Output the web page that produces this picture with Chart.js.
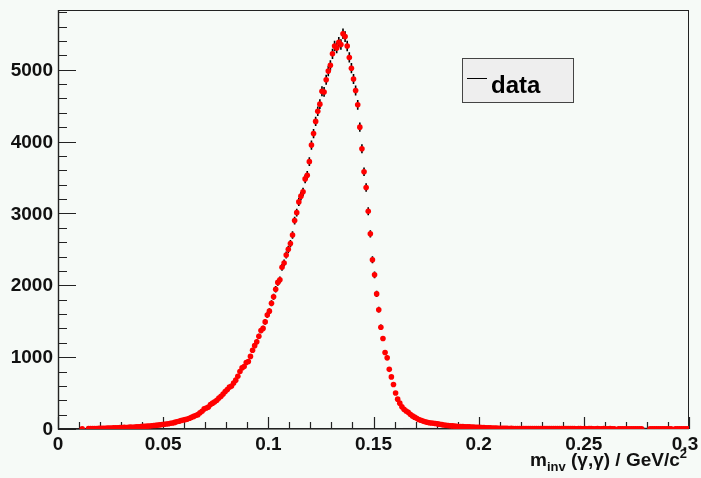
<!DOCTYPE html>
<html>
<head>
<meta charset="utf-8">
<script src="https://cdn.jsdelivr.net/npm/chart.js@4"></script>
<style>
  html, body { margin: 0; padding: 0; background: #f6faf7; }
  canvas { display: block; }
</style>
</head>
<body>
<canvas id="hist" width="701" height="478"></canvas>
<script>
// histogram binning: 300 bins from 0 to 0.3, first filled bin is #11
const xLow = 0;
const binWidth = 0.001;
const firstBin = 11;

// counts per bin (null = empty bin)
const countsLow = [3, null, null, 5, 6, 7, 6, 8, 9, 9,
    11, 10, 12, 14, 13, 15, 17, 16, 19, 20,
    22, 21, 24, 26, 25, 28, 30, 32, 34, 36,
    37, 40, 42, 45, 48, 50, 54, 58, 62];
const countsRise = [66, 70, 74, 80, 84, 92, 100, 108, 118, 126,
    130, 138, 150, 162, 175, 188, 200, 226, 248, 280,
    292, 305, 340, 360, 378, 400, 430, 455, 488, 522,
    550, 582, 598, 640, 680, 735, 800, 850, 870, 925,
    940, 1010, 1095, 1160, 1215, 1290, 1370, 1400, 1490, 1585];
const countsPeak = [1640, 1750, 1840, 1945, 2040, 2075, 2250, 2310, 2420, 2500,
    2580, 2700, 2900, 3010, 3160, 3240, 3300, 3480, 3530, 3720,
    3950, 4110, 4280, 4420, 4520, 4700, 4690, 4860, 4980, 5060,
    5220, 5330, 5300, 5380, 5350, 5500, 5460, 5330, 5170, 5020];
const countsFall = [4870, 4710, 4510, 4200, 3900, 3580, 3360, 3030, 2715, 2355,
    2145, 1880, 1660, 1415, 1260, 1065, 990, 830, 725, 620,
    500, 415, 360, 310, 275, 250, 232, 205, 182, 165,
    148, 132, 122, 110, 100, 93, 88, 84, 80, 76,
    72, 66, 61, 56, 52, 49, 46, 43, 40, 37,
    35, 34, 33, 32, 31, 29, 28, 26, 25, 24];
const countsTail = [22, 20, 19, 18, 16, 15, 14, 13, 12, 11,
    10, 10, 9, 9, 8, 9, 8, 8, 7, 8,
    7, 8, 7, 7, 6, 7, 7, 6, 7, 6,
    6, 7, 6, 6, 5, 6, 6, 5, 6, 5,
    6, 5, 5, 6, 5, 5, 4, 5, 5, 4,
    5, 4, 5, 5, 4, 4, 5, 4, 4, 5,
    4, 4, 5, 4, 4, null, 4, 3, 4, 4,
    4, 3, 4, 4, 3, 4, 3, 4, null, null,
    null, 3, 4, 3, 3, 4, 3, 3, 4, 3,
    3, 3, null, 3, 3, 2, 3, 3, 3, 3];

const xTickValues = [0, 0.05, 0.1, 0.15, 0.2, 0.25, 0.3];
const xTickLabels = ['0', '0.05', '0.1', '0.15', '0.2', '0.25', '0.3'];
const yTickValues = [0, 1000, 2000, 3000, 4000, 5000];
const yTickLabels = ['0', '1000', '2000', '3000', '4000', '5000'];
const yMax = 5830;
const legendLabel = 'data';

const allCounts = countsLow.concat(countsRise, countsPeak, countsFall, countsTail);
const points = [];
allCounts.forEach(function (n, i) {
    if (n === null) return;
    points.push({ x: xLow + (firstBin + i + 0.5) * binWidth, y: n });
});

const FONT = '"Liberation Sans", Arial, sans-serif';

const rootFrame = {
    id: 'rootFrame',
    beforeDraw(chart) {
        const ctx = chart.ctx;
        ctx.save();
        ctx.fillStyle = '#f6faf7';
        ctx.fillRect(0, 0, chart.width, chart.height);
        ctx.restore();
    },
    beforeDatasetsDraw(chart) {
        const ctx = chart.ctx;
        const a = chart.chartArea;
        const xs = chart.scales.x;
        const ys = chart.scales.y;
        ctx.save();

        // frame
        ctx.strokeStyle = '#222';
        ctx.lineWidth = 1;
        ctx.strokeRect(Math.round(a.left) + 0.5, Math.round(a.top) + 0.5,
            Math.round(a.right - a.left) - 1, Math.round(a.bottom - a.top) - 1);
        ctx.lineWidth = 1.4;
        ctx.beginPath();
        ctx.moveTo(a.left + 0.5, a.top);
        ctx.lineTo(a.left + 0.5, a.bottom);
        ctx.lineTo(a.right, a.bottom - 0.5);
        ctx.stroke();

        // x ticks, every 0.01, long ones every 0.05
        ctx.lineWidth = 1.2;
        ctx.beginPath();
        for (let k = 0; k <= 30; k++) {
            const px = Math.round(xs.getPixelForValue(k / 100)) + 0.5;
            const len = (k % 5 === 0) ? 12 : 7;
            ctx.moveTo(px, a.bottom);
            ctx.lineTo(px, a.bottom - len);
        }
        // y ticks, every 200, long ones every 1000
        for (let v = 0; v <= yMax; v += 200) {
            const py = Math.round(ys.getPixelForValue(v)) + 0.5;
            const len = (v % 1000 === 0) ? 18 : 9;
            ctx.moveTo(a.left, py);
            ctx.lineTo(a.left + len, py);
        }
        ctx.stroke();

        // tick labels
        ctx.fillStyle = '#111';
        ctx.font = 'bold 19px ' + FONT;
        ctx.textAlign = 'center';
        ctx.textBaseline = 'top';
        xTickValues.forEach(function (v, i) {
            const shift = (i === xTickValues.length - 1) ? -4 : 0;
            ctx.fillText(xTickLabels[i], xs.getPixelForValue(v) + shift, a.bottom + 6);
        });
        ctx.textAlign = 'right';
        ctx.textBaseline = 'middle';
        yTickValues.forEach(function (v, i) {
            ctx.fillText(yTickLabels[i], a.left - 5, ys.getPixelForValue(v) + 1);
        });

        // axis title with sub/superscript
        const parts = [
            { t: 'm', size: 19, dy: 0 },
            { t: 'inv', size: 13, dy: 5 },
            { t: ' (\u03b3,\u03b3) / GeV/c', size: 19, dy: 0 },
            { t: '2', size: 13, dy: -8 }
        ];
        ctx.textAlign = 'left';
        ctx.textBaseline = 'alphabetic';
        let total = 0;
        parts.forEach(function (p) {
            ctx.font = 'bold ' + p.size + 'px ' + FONT;
            p.w = ctx.measureText(p.t).width;
            total += p.w;
        });
        let tx = 687 - total;
        parts.forEach(function (p) {
            ctx.font = 'bold ' + p.size + 'px ' + FONT;
            ctx.fillText(p.t, tx, 466 + p.dy);
            tx += p.w;
        });

        // error bars, sqrt(N)
        ctx.strokeStyle = '#000';
        ctx.lineWidth = 1.6;
        ctx.beginPath();
        points.forEach(function (p) {
            const e = Math.sqrt(p.y);
            const px = xs.getPixelForValue(p.x);
            ctx.moveTo(px, ys.getPixelForValue(p.y + e));
            ctx.lineTo(px, ys.getPixelForValue(Math.max(p.y - e, 0)));
        });
        ctx.stroke();
        ctx.restore();
    },
    afterDatasetsDraw(chart) {
        const ctx = chart.ctx;
        ctx.save();
        ctx.fillStyle = '#eeeeee';
        ctx.fillRect(463, 59, 111, 43);
        ctx.strokeStyle = '#444';
        ctx.lineWidth = 1;
        ctx.strokeRect(462.5, 58.5, 111, 44);
        ctx.strokeStyle = '#000';
        ctx.beginPath();
        ctx.moveTo(467, 78.5);
        ctx.lineTo(487, 78.5);
        ctx.stroke();
        ctx.fillStyle = '#000';
        ctx.font = 'bold 24px ' + FONT;
        ctx.textAlign = 'left';
        ctx.textBaseline = 'alphabetic';
        ctx.fillText(legendLabel, 491, 93);
        ctx.restore();
    }
};

const ctx = document.getElementById('hist').getContext('2d');
const histChart = new Chart(ctx, {
    type: 'scatter',
    data: {
        datasets: [{
            label: legendLabel,
            data: points,
            backgroundColor: '#ff0000',
            borderWidth: 0,
            pointRadius: 2.8,
            pointStyle: 'circle'
        }]
    },
    options: {
        responsive: false,
        animation: false,
        layout: { padding: { left: 58, right: 12, top: 10, bottom: 49 } },
        plugins: { legend: { display: false }, tooltip: { enabled: false } },
        scales: {
            x: { type: 'linear', min: 0, max: 0.3, display: false },
            y: { type: 'linear', min: 0, max: yMax, display: false }
        }
    },
    plugins: [rootFrame]
});
</script>
</body>
</html>
